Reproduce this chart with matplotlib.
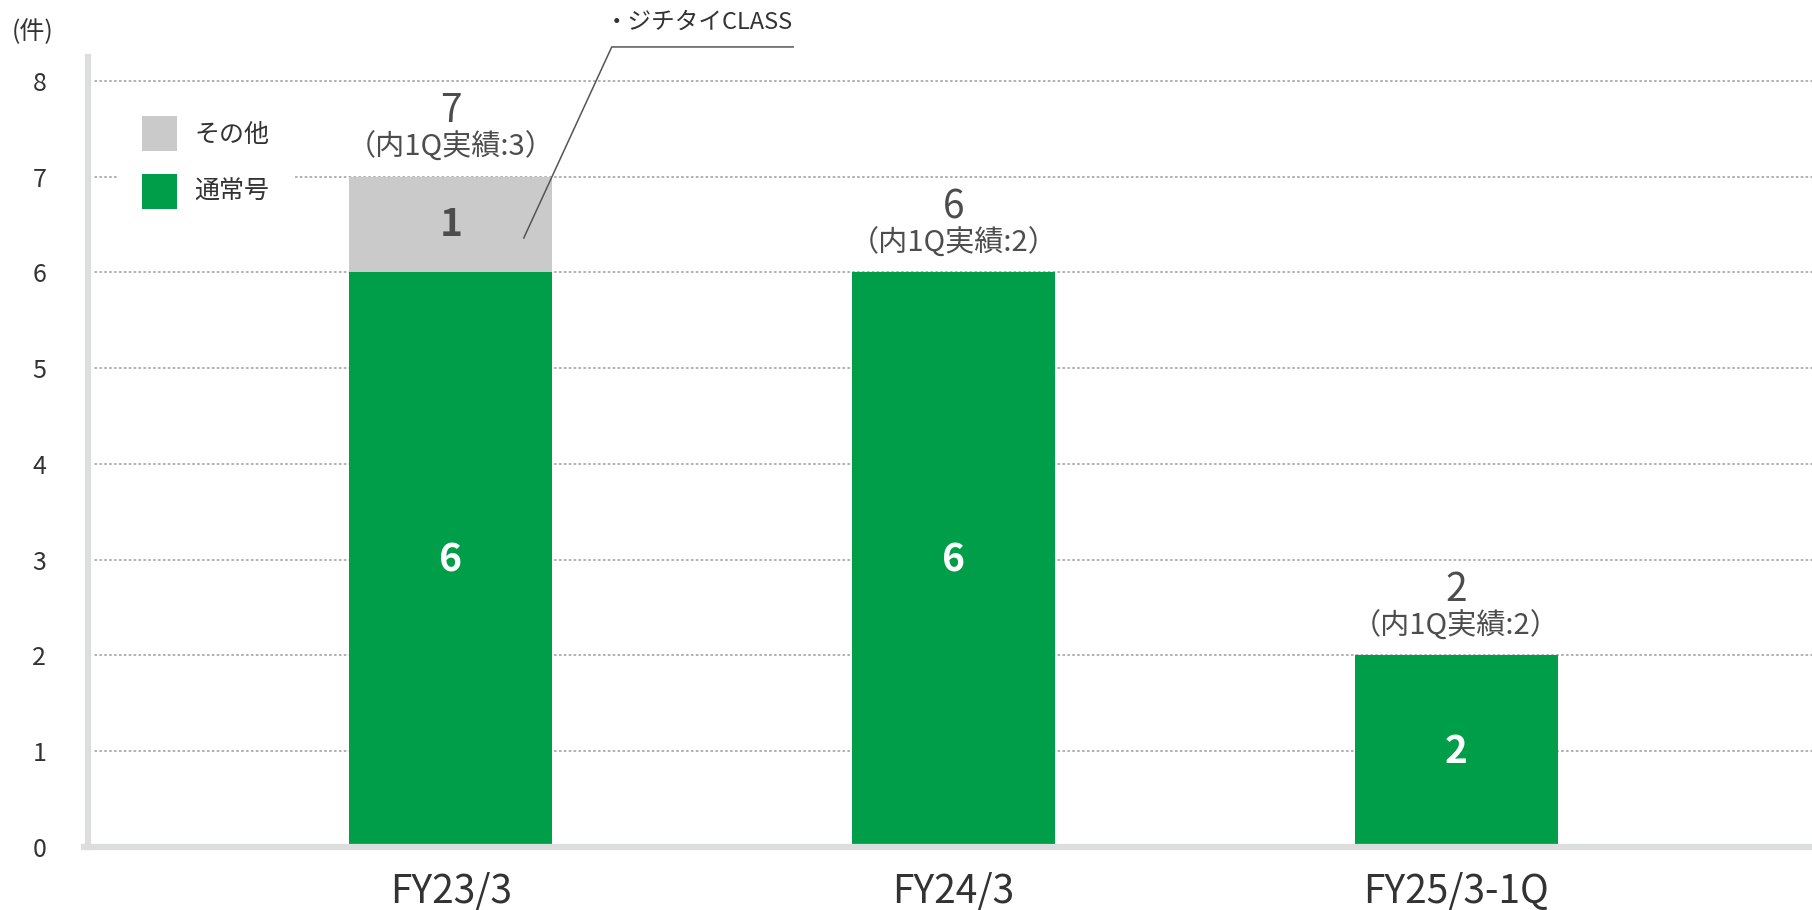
import matplotlib
matplotlib.use("Agg")
import matplotlib.pyplot as plt
from matplotlib.patches import Patch

plt.rcParams['font.family'] = ['Noto Sans CJK JP', 'DejaVu Sans']

categories = ["FY23/3", "FY24/3", "FY25/3-1Q"]
regular = [6, 6, 2]          # 通常号
other = [1, 0, 0]            # その他
q1_actual = [3, 2, 2]        # 内1Q実績
yticks = [0, 1, 2, 3, 4, 5, 6, 7, 8]

GREEN = "#009E49"
GRAY = "#C9CAC9"
AXIS = "#DCDDDD"
TXT = "#333333"
LBL = "#4D4D4D"

fig = plt.figure(figsize=(18.12, 9.10), dpi=100)
ax = fig.add_axes([88/1812, 1-847/910, 1-88/1812, (847-57)/910])

x = list(range(len(categories)))
w = 0.404
ax.bar(x, regular, width=w, color=GREEN, zorder=3)
ax.bar(x, other, width=w, bottom=regular, color=GRAY, zorder=3)

ax.set_xlim(-0.722, 2.708)
ax.set_ylim(0, 8.25)

for yv in yticks[1:]:
    ax.axhline(yv, xmin=0.004, xmax=1, color="#9A9A9A", lw=1.1,
               linestyle=(0, (1, 2.2)), dash_capstyle='round', zorder=1)

for s in ["top", "right"]:
    ax.spines[s].set_visible(False)
for s in ["left", "bottom"]:
    ax.spines[s].set_color(AXIS)
    ax.spines[s].set_linewidth(4.5)
    ax.spines[s].set_zorder(4)
ax.spines["bottom"].set_bounds(-0.73, 2.708)

ax.set_yticks(yticks)
ax.set_yticklabels([str(v) for v in yticks])
ax.tick_params(axis='y', length=0, pad=30, labelsize=18, labelcolor=TXT)
ax.set_xticks(x)
ax.set_xticklabels(categories)
ax.tick_params(axis='x', length=0, pad=18, labelsize=28, labelcolor=TXT)

# inside labels
for i in x:
    if regular[i] > 0:
        ax.text(i, regular[i] / 2, str(regular[i]), ha='center', va='center',
                color='white', fontsize=28, fontweight='bold', zorder=5)
    if other[i] > 0:
        ax.text(i, regular[i] + other[i] / 2, str(other[i]), ha='center',
                va='center', color=LBL, fontsize=28, fontweight='bold', zorder=5)

# totals
for i in x:
    tot = regular[i] + other[i]
    ax.annotate(str(tot), (i, tot), xytext=(0, 47), textcoords='offset points',
                ha='center', va='center', color=LBL, fontsize=28)
    ax.annotate("（内1Q実績:%d）" % q1_actual[i], (i, tot), xytext=(0, 21),
                textcoords='offset points', ha='center', va='center',
                color=LBL, fontsize=21)

# leader annotation
ax.plot([0.145, 0.320, 0.681], [6.36, 8.355, 8.355], color="#555555",
        lw=1.1, clip_on=False, zorder=6)
ax.text(0.681, 8.61, "・ジチタイCLASS", ha='right', va='center',
        color=TXT, fontsize=17, clip_on=False)

# unit
fig.text(33/1812, 1-32/910, "(件)", ha='center', va='center',
         color=TXT, fontsize=18)

handles = [Patch(facecolor=GRAY, edgecolor='none', label="その他"),
           Patch(facecolor=GREEN, edgecolor='none', label="通常号")]
leg = ax.legend(handles=handles, loc='upper left',
                bbox_to_anchor=(117/1812, 1-91/910), bbox_transform=fig.transFigure,
                frameon=True, facecolor='white', edgecolor='none', framealpha=1,
                fancybox=False, fontsize=18, handlelength=1.4, handleheight=1.78,
                labelspacing=0.9, handletextpad=0.7, borderpad=1.0,
                borderaxespad=0)
for t in leg.get_texts():
    t.set_color(TXT)
leg.set_zorder(2)

fig.savefig("out.png", dpi=100, facecolor='white')
